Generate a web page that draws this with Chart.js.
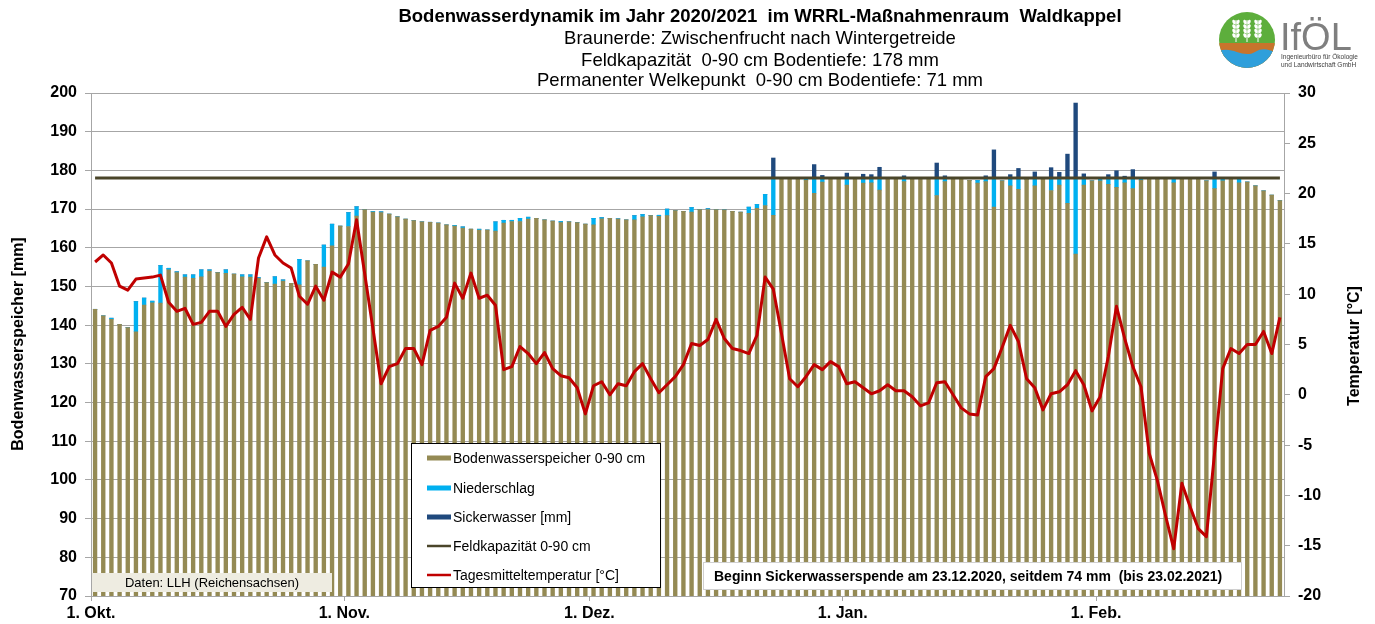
<!DOCTYPE html>
<html lang="de">
<head>
<meta charset="utf-8">
<title>Bodenwasserdynamik Waldkappel 2020/2021</title>
<script src="https://cdn.jsdelivr.net/npm/chart.js@4.4.1/dist/chart.umd.min.js"></script>
<style>
  html, body { margin: 0; padding: 0; background: #fff; }
  #wrap { width: 1375px; height: 624px; position: relative; }
</style>
</head>
<body>
<div id="wrap"><canvas id="chart" width="1375" height="624"></canvas></div>
<script>
// Tageswerte ab 1. Okt. 2020 bis 23.02.2021 (146 Tage)
const bodenwasser = [
  144.1, 142.4, 141.5, 140.2, 139.4, 138.3, 145.2, 145.8, 145.7, 154.3,
  153.6, 152.4, 152.1, 152.5, 154.0, 153.6, 153.4, 153.2, 152.5, 152.4,
  152.1, 151.0, 150.6, 151.4, 150.8, 150.4, 156.6, 155.7, 155.0, 160.5,
  165.6, 165.5, 168.2, 169.9, 169.2, 169.1, 168.7, 168.0, 167.4, 167.0,
  166.7, 166.6, 166.4, 165.9, 165.6, 165.1, 164.8, 164.6, 164.6, 164.3,
  166.4, 166.8, 166.8, 167.4, 167.6, 167.2, 166.9, 166.5, 166.7, 166.5,
  166.1, 165.9, 167.5, 167.6, 167.4, 167.2, 167.2, 168.0, 168.3, 168.1,
  168.3, 169.6, 169.4, 169.2, 169.9, 169.9, 169.9, 169.8, 169.4, 169.2,
  168.9, 170.2, 170.9, 168.4, 178.0, 178.0, 178.0, 177.4, 174.1, 177.0,
  178.0, 178.0, 176.2, 178.0, 176.7, 176.8, 174.9, 178.0, 178.0, 177.1,
  178.0, 178.0, 178.0, 173.5, 177.1, 178.0, 178.0, 177.4, 176.7, 177.1,
  170.5, 177.3, 176.0, 175.1, 177.7, 176.0, 178.0, 174.8, 176.2, 171.5,
  158.4, 176.2, 177.3, 177.3, 176.4, 175.6, 176.8, 175.3, 177.4, 178.0,
  177.7, 178.0, 176.8, 178.0, 178.0, 178.0, 177.3, 175.3, 177.3, 178.0,
  176.8, 177.0, 176.0, 174.7, 173.6, 172.2
];
const niederschlag = [
  0, 0, 0.3, 0, 0, 7.8, 1.8, 0.4, 9.7, 0.4,
  0.2, 0.6, 0.9, 1.8, 0.3, 0, 0.9, 0, 0.5, 0.6,
  0.2, 0, 1.9, 0.3, 0, 6.6, 0, 0, 5.7, 5.6,
  0, 3.6, 2.4, 0, 0.2, 0.2, 0, 0, 0, 0,
  0, 0, 0, 0, 0.2, 0.3, 0, 0.2, 0, 2.4,
  0.7, 0.3, 0.8, 0.5, 0, 0, 0, 0.3, 0, 0,
  0, 1.7, 0.3, 0, 0.1, 0, 1.1, 0.6, 0, 0.3,
  1.7, 0, 0, 1.2, 0, 0.2, 0, 0, 0, 0,
  1.6, 1.0, 2.9, 9.6, 0, 0, 0, 0.6, 3.9, 1.0,
  0, 0, 1.8, 0, 1.3, 1.2, 3.1, 0, 0, 0.9,
  0, 0, 0, 4.5, 0.9, 0, 0, 0, 0.7, 0.9,
  7.5, 0, 2.0, 2.9, 0, 2.0, 0, 3.2, 1.8, 6.5,
  19.6, 1.8, 0, 0.7, 1.6, 2.4, 1.2, 2.7, 0.6, 0,
  0.3, 0, 1.2, 0, 0, 0, 0, 2.7, 0.7, 0,
  1.2, 0, 0, 0, 0, 0
];
const sickerwasser = [
  0, 0, 0, 0, 0, 0, 0, 0, 0, 0,
  0, 0, 0, 0, 0, 0, 0, 0, 0, 0,
  0, 0, 0, 0, 0, 0, 0, 0, 0, 0,
  0, 0, 0, 0, 0, 0, 0, 0, 0, 0,
  0, 0, 0, 0, 0, 0, 0, 0, 0, 0,
  0, 0, 0, 0, 0, 0, 0, 0, 0, 0,
  0, 0, 0, 0, 0, 0, 0, 0, 0, 0,
  0, 0, 0, 0, 0, 0, 0, 0, 0, 0,
  0, 0, 0, 5.2, 0, 0, 0, 0, 3.5, 0.7,
  0, 0, 1.3, 0, 1.0, 0.9, 2.8, 0, 0, 0.6,
  0, 0, 0, 3.9, 0.6, 0, 0, 0, 0, 0.6,
  7.3, 0, 0.9, 2.5, 0, 1.6, 0, 2.7, 1.5, 6.2,
  19.4, 1.1, 0, 0, 0.9, 1.9, 0.5, 2.2, 0, 0,
  0, 0, 0, 0, 0, 0, 0, 1.6, 0, 0,
  0, 0, 0, 0, 0, 0
];
const temperatur = [
  13.2, 13.9, 13.1, 10.8, 10.4, 11.5, 11.6, 11.7, 11.9, 9.2,
  8.3, 8.6, 7.0, 7.2, 8.3, 8.3, 6.8, 8.0, 8.7, 7.5,
  13.6, 15.7, 13.9, 13.1, 12.6, 9.8, 9.0, 10.8, 9.4, 12.2,
  11.7, 13.0, 17.4, 12.0, 6.6, 1.1, 2.8, 3.1, 4.6, 4.6,
  3.0, 6.4, 6.8, 7.7, 11.1, 9.6, 12.1, 9.6, 9.9, 8.9,
  2.5, 2.8, 4.8, 4.1, 3.1, 4.2, 2.6, 1.9, 1.7, 0.7,
  -1.9, 0.9, 1.3, 0.0, 1.1, 0.9, 2.3, 3.1, 1.6, 0.2,
  1.0, 1.8, 3.0, 5.1, 4.9, 5.5, 7.5, 5.6, 4.6, 4.4,
  4.1, 5.9, 11.7, 10.5, 6.1, 1.6, 0.8, 1.8, 3.0, 2.5,
  3.3, 2.8, 1.1, 1.3, 0.7, 0.1, 0.4, 1.0, 0.4, 0.4,
  -0.2, -1.1, -0.8, 1.2, 1.3, 0.0, -1.3, -1.9, -2.0, 1.8,
  2.6, 4.7, 6.9, 5.3, 1.6, 0.7, -1.5, 0.1, 0.3, 1.0,
  2.4, 1.0, -1.6, -0.2, 3.8, 8.8, 5.6, 2.8, 0.8, -5.8,
  -8.5, -12.0, -15.3, -8.8, -11.1, -13.3, -14.1, -5.8, 2.6, 4.6,
  4.1, 5.0, 5.0, 6.3, 4.1, 7.7
];
const feldkapazitaet = 178;

// Monatsanfaenge als Tagesindex + Beschriftung
const tickTage = [0, 31, 61, 92, 123];
const tickLabels = ['1. Okt.', '1. Nov.', '1. Dez.', '1. Jan.', '1. Feb.'];

const titelZeilen = [
  'Bodenwasserdynamik im Jahr 2020/2021  im WRRL-Maßnahmenraum  Waldkappel',
  'Braunerde: Zwischenfrucht nach Wintergetreide',
  'Feldkapazität  0-90 cm Bodentiefe: 178 mm',
  'Permanenter Welkepunkt  0-90 cm Bodentiefe: 71 mm'
];

const FONT = '"Liberation Sans", Arial, sans-serif';
Chart.defaults.font.family = FONT;

// Punkte in Tagesmitte
const proTag = arr => arr.map((v, i) => ({ x: i + 0.5, y: v }));

function zeichneLogo(ctx) {
  const cx = 1247, cy = 40, r = 28;
  ctx.save();
  ctx.beginPath();
  ctx.arc(cx, cy, r, 0, Math.PI * 2);
  ctx.clip();
  ctx.fillStyle = '#5DAE3C';
  ctx.fillRect(cx - r, cy - r, 2 * r, 2 * r);
  ctx.fillStyle = '#C8742C';
  ctx.fillRect(cx - r, cy + 3, 2 * r, r);
  ctx.fillStyle = '#2F9FDB';
  ctx.beginPath();
  ctx.moveTo(cx - r, cy + 11);
  ctx.bezierCurveTo(cx - 14, cy + 6, cx - 4, cy + 19, cx + 8, cy + 12);
  ctx.bezierCurveTo(cx + 16, cy + 7, cx + 22, cy + 10, cx + r, cy + 12);
  ctx.lineTo(cx + r, cy + r);
  ctx.lineTo(cx - r, cy + r);
  ctx.closePath();
  ctx.fill();
  ctx.restore();
  // Aehren
  ctx.save();
  ctx.fillStyle = '#fff';
  ctx.strokeStyle = '#fff';
  ctx.lineWidth = 1;
  [-11, 0, 11].forEach(dx => {
    const x = cx + dx;
    ctx.beginPath();
    ctx.moveTo(x, cy - 20);
    ctx.lineTo(x, cy + 2);
    ctx.stroke();
    for (let k = 0; k < 4; k++) {
      const y = cy - 18 + k * 4.5;
      ctx.beginPath();
      ctx.ellipse(x - 2, y, 1.6, 2.4, -0.4, 0, Math.PI * 2);
      ctx.ellipse(x + 2, y, 1.6, 2.4, 0.4, 0, Math.PI * 2);
      ctx.fill();
    }
  });
  ctx.restore();
  ctx.save();
  ctx.fillStyle = '#7F7F7F';
  ctx.textAlign = 'left';
  ctx.textBaseline = 'alphabetic';
  ctx.font = '38px ' + FONT;
  ctx.fillText('IfÖL', 1280, 50);
  ctx.fillStyle = '#404040';
  ctx.font = '6.5px ' + FONT;
  ctx.fillText('Ingenieurbüro für Ökologie', 1281, 59);
  ctx.fillText('und Landwirtschaft GmbH', 1281, 67);
  ctx.restore();
}

const dekor = {
  id: 'dekor',
  afterDraw(chart) {
    const ctx = chart.ctx;
    ctx.save();
    ctx.fillStyle = '#000';
    ctx.textAlign = 'center';
    ctx.textBaseline = 'middle';
    ctx.font = 'bold 18.5px ' + FONT;
    ctx.fillText(titelZeilen[0], 760, 17);
    ctx.font = '18.5px ' + FONT;
    ctx.fillText(titelZeilen[1], 760, 39);
    ctx.fillText(titelZeilen[2], 760, 61);
    ctx.fillText(titelZeilen[3], 760, 81);

    // Achsentitel
    ctx.font = 'bold 16px ' + FONT;
    ctx.save();
    ctx.translate(19, 344);
    ctx.rotate(-Math.PI / 2);
    ctx.fillText('Bodenwasserspeicher [mm]', 0, 0);
    ctx.restore();
    ctx.save();
    ctx.translate(1355, 346);
    ctx.rotate(-Math.PI / 2);
    ctx.fillText('Temperatur [°C]', 0, 0);
    ctx.restore();

    // Quelle
    ctx.fillStyle = '#EEECE1';
    ctx.fillRect(92, 573, 240, 19);
    ctx.fillStyle = '#000';
    ctx.font = '13px ' + FONT;
    ctx.fillText('Daten: LLH (Reichensachsen)', 212, 583);

    // Sickerwasser-Hinweis
    ctx.fillStyle = '#fff';
    ctx.fillRect(703, 562, 539, 28);
    ctx.strokeStyle = '#D0D0D0';
    ctx.lineWidth = 1;
    ctx.strokeRect(703.5, 562.5, 538, 27);
    ctx.fillStyle = '#000';
    ctx.textAlign = 'left';
    ctx.font = 'bold 14px ' + FONT;
    ctx.fillText('Beginn Sickerwasserspende am 23.12.2020, seitdem 74 mm  (bis 23.02.2021)', 714, 577);

    // Legende
    ctx.fillStyle = '#fff';
    ctx.fillRect(411.5, 443.5, 249, 144);
    ctx.strokeStyle = '#000';
    ctx.strokeRect(411.5, 443.5, 249, 144);
    const zeilenY = [458, 488, 517, 546, 575];
    chart.data.datasets.forEach((ds, k) => {
      const y = zeilenY[k];
      if (ds.type === 'bar') {
        ctx.fillStyle = ds.backgroundColor;
        ctx.fillRect(427, y - 2.5, 24, 5);
      } else {
        ctx.strokeStyle = ds.borderColor;
        ctx.lineWidth = 2.5;
        ctx.beginPath();
        ctx.moveTo(427, y);
        ctx.lineTo(451, y);
        ctx.stroke();
      }
      ctx.fillStyle = '#000';
      ctx.font = '14px ' + FONT;
      ctx.fillText(ds.label, 453, y + 1);
    });
    ctx.restore();

    zeichneLogo(ctx);
  }
};

const gitter = '#A6A6A6';

new Chart(document.getElementById('chart'), {
  type: 'bar',
  data: {
    datasets: [
      {
        type: 'bar', label: 'Bodenwasserspeicher 0-90 cm',
        data: proTag(bodenwasser), backgroundColor: '#948A54',
        yAxisID: 'yL', barThickness: 3.7, order: 3
      },
      {
        type: 'bar', label: 'Niederschlag',
        data: proTag(niederschlag), backgroundColor: '#00B0F0',
        yAxisID: 'yL', barThickness: 3.7, order: 3
      },
      {
        type: 'bar', label: 'Sickerwasser [mm]',
        data: proTag(sickerwasser), backgroundColor: '#1F497D',
        yAxisID: 'yL', barThickness: 3.7, order: 3
      },
      {
        type: 'line', label: 'Feldkapazität 0-90 cm',
        data: proTag(bodenwasser.map(() => feldkapazitaet)),
        borderColor: '#4A452A', borderWidth: 3, pointRadius: 0,
        yAxisID: 'yL', order: 2
      },
      {
        type: 'line', label: 'Tagesmitteltemperatur [°C]',
        data: proTag(temperatur), borderColor: '#C00000', borderWidth: 3,
        pointRadius: 0, tension: 0, yAxisID: 'yR', order: 1,
        borderJoinStyle: 'round'
      }
    ]
  },
  options: {
    responsive: false,
    animation: false,
    devicePixelRatio: 1,
    layout: { padding: { top: 93, left: 0, right: 0, bottom: 0 } },
    plugins: { legend: { display: false }, tooltip: { enabled: false } },
    scales: {
      x: {
        type: 'linear', min: 0, max: 146, offset: false, stacked: true,
        afterBuildTicks(s) { s.ticks = tickTage.map(v => ({ value: v })); },
        ticks: {
          autoSkip: false, maxRotation: 0, color: '#000', padding: 3,
          font: { size: 16, weight: 'bold' },
          callback: v => tickLabels[tickTage.indexOf(v)]
        },
        grid: { offset: false, drawOnChartArea: false, color: gitter, tickLength: 5 },
        border: { color: gitter },
        afterFit(s) { s.height = 28; }
      },
      yL: {
        type: 'linear', position: 'left', stacked: true, min: 70, max: 200,
        ticks: { stepSize: 10, color: '#000', padding: 8, font: { size: 16, weight: 'bold' } },
        grid: { color: gitter, tickLength: 6 },
        border: { color: gitter },
        afterFit(s) { s.width = 91; }
      },
      yR: {
        type: 'linear', position: 'right', min: -20, max: 30,
        ticks: { stepSize: 5, color: '#000', padding: 8, font: { size: 16, weight: 'bold' } },
        grid: { drawOnChartArea: false, color: gitter, tickLength: 6 },
        border: { color: gitter },
        afterFit(s) { s.width = 91; }
      }
    }
  },
  plugins: [dekor]
});
</script>
</body>
</html>
